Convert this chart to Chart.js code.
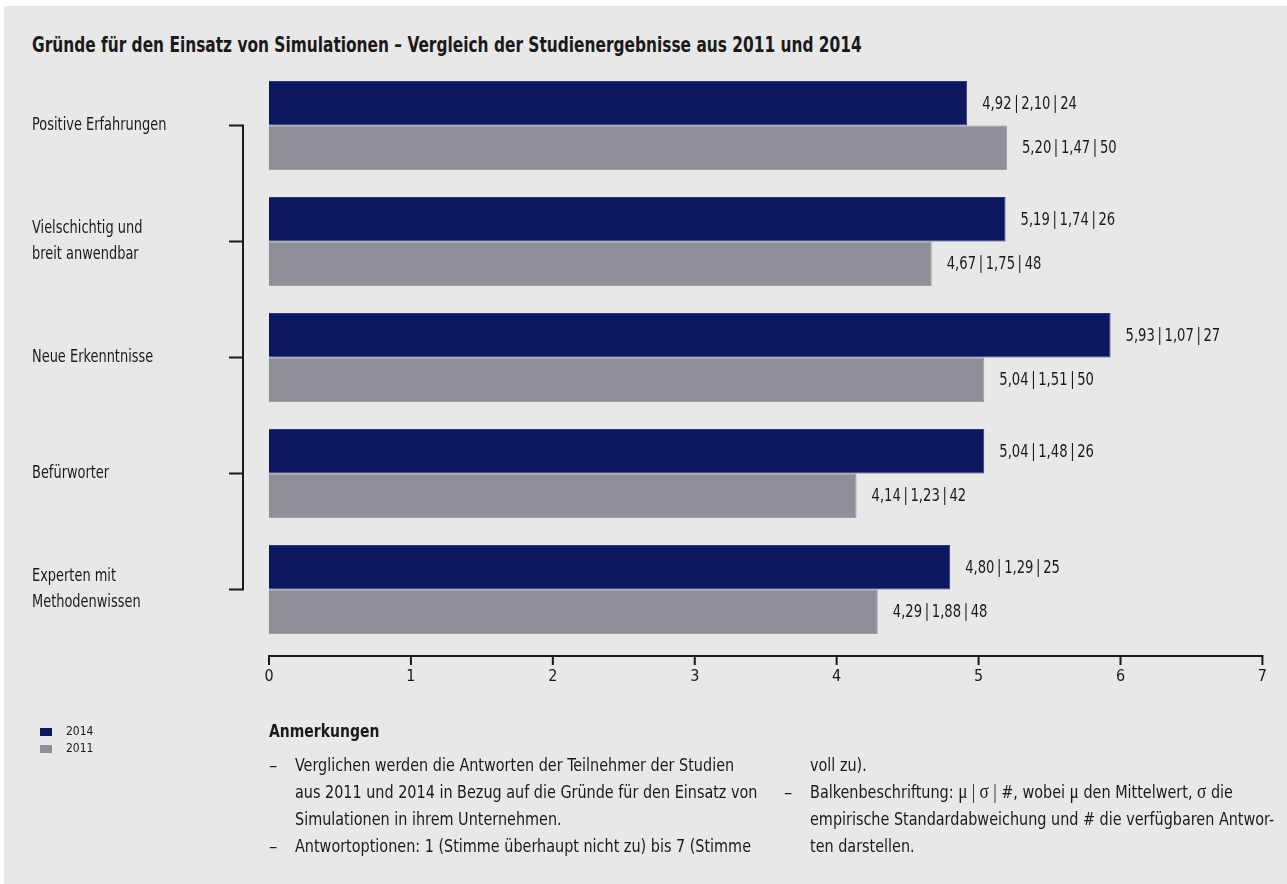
<!DOCTYPE html>
<html lang="de">
<head>
<meta charset="utf-8">
<title>Gründe für den Einsatz von Simulationen</title>
<script src="https://cdn.jsdelivr.net/npm/chart.js@4.4.1/dist/chart.umd.min.js"></script>
<style>
  html, body { margin: 0; padding: 0; background: #fff; }
  body {
    width: 1287px; height: 884px; position: relative; overflow: hidden;
    font-family: "DejaVu Sans Condensed", "Liberation Sans Narrow", "Arial Narrow", sans-serif;
    color: #1a1a1a;
  }
  #panel { position: absolute; left: 4px; top: 6px; right: 0; bottom: 0; background: #e8e8e8; }
  #chartBox { position: absolute; left: 0; top: 0; width: 1287px; height: 884px; }
  .sx { display: inline-block; transform-origin: 0 0; white-space: nowrap; }
  h1 { position: absolute; left: 32px; top: 32px; margin: 0; font-size: 20.5px; line-height: 26px; font-weight: bold; }
  h1 .sx { transform: scaleX(0.835); }
  #legend { position: absolute; left: 40px; top: 723px; font-size: 12px; line-height: 17px; }
  #legend .row { display: flex; align-items: center; }
  #legend .sw { width: 12px; height: 8px; margin-right: 14px; }
  #notesHead { position: absolute; left: 269px; top: 718px; font-size: 18.5px; line-height: 26px; font-weight: bold; }
  #notesHead .sx { transform: scaleX(0.84); }
  .col { position: absolute; top: 751px; font-size: 18.5px; line-height: 27px; }
  .col .item { position: relative; }
  .col .dash { position: absolute; left: -26px; top: 0; }
  .col .sx { transform: scaleX(0.865); }
  #col1 { left: 295px; }
  #col2 { left: 810px; }
  .sym { font-family: "Liberation Serif", "DejaVu Serif", serif; font-size: 20px; }
</style>
</head>
<body>
<div id="panel"></div>
<h1><span class="sx">Gründe für den Einsatz von Simulationen – Vergleich der Studienergebnisse aus 2011 und 2014</span></h1>
<div id="chartBox"><canvas id="simChart" width="1287" height="884"></canvas></div>
<div id="legend"></div>
<div id="notesHead"><span class="sx">Anmerkungen</span></div>
<div class="col" id="col1">
  <div class="item"><span class="dash">–</span><span class="sx">Verglichen werden die Antworten der Teilnehmer der Studien<br>aus 2011 und 2014 in Bezug auf die Gründe für den Einsatz von<br>Simulationen in ihrem Unternehmen.</span></div>
  <div class="item"><span class="dash">–</span><span class="sx">Antwortoptionen: 1 (Stimme überhaupt nicht zu) bis 7 (Stimme</span></div>
</div>
<div class="col" id="col2">
  <div class="item"><span class="sx">voll zu).</span></div>
  <div class="item"><span class="dash">–</span><span class="sx">Balkenbeschriftung: <span class="sym">μ | σ |</span> #, wobei <span class="sym">μ</span> den Mittelwert, <span class="sym">σ</span> die<br>empirische Standardabweichung und # die verfügbaren Antwor-<br>ten darstellen.</span></div>
</div>

<script>
const FONT = '"DejaVu Sans Condensed", "Liberation Sans Narrow", "Arial Narrow", sans-serif';

// Gründe (mehrzeilige Beschriftungen als Arrays)
const categories = [
  'Positive Erfahrungen',
  ['Vielschichtig und', 'breit anwendbar'],
  'Neue Erkenntnisse',
  'Befürworter',
  ['Experten mit', 'Methodenwissen']
];

// Studie 2014: Mittelwert, Standardabweichung, Anzahl Antworten
const mean2014 = [4.92, 5.19, 5.93, 5.04, 4.80];
const sd2014   = [2.10, 1.74, 1.07, 1.48, 1.29];
const n2014    = [24, 26, 27, 26, 25];

// Studie 2011
const mean2011 = [5.20, 4.67, 5.04, 4.14, 4.29];
const sd2011   = [1.47, 1.75, 1.51, 1.23, 1.88];
const n2011    = [50, 48, 50, 42, 48];

const xTicks = [0, 1, 2, 3, 4, 5, 6, 7];

const fmt = v => v.toFixed(2).replace('.', ',');
const THIN = '\u2009';

// schmal gestauchter Text auf dem Canvas
function narrowText(ctx, txt, x, y, sx) {
  ctx.save();
  ctx.translate(x, y);
  ctx.scale(sx, 1);
  ctx.fillText(txt, 0, 0);
  ctx.restore();
}

// Beschriftung rechts neben jedem Balken: μ | σ | #
const barLabels = {
  id: 'barLabels',
  afterDatasetsDraw(chart) {
    const ctx = chart.ctx;
    ctx.save();
    ctx.font = '17px ' + FONT;
    ctx.fillStyle = '#1a1a1a';
    ctx.textBaseline = 'middle';
    ctx.textAlign = 'left';
    chart.data.datasets.forEach((ds, i) => {
      chart.getDatasetMeta(i).data.forEach((bar, j) => {
        const txt = [fmt(ds.data[j]), fmt(ds.sd[j]), String(ds.n[j])].join(THIN + '|' + THIN);
        narrowText(ctx, txt, bar.x + 15, bar.y + 1, 0.86);
      });
    });
    ctx.restore();
  }
};

// Kategorienamen links, linksbündig und vertikal auf die Gruppe zentriert
const categoryLabels = {
  id: 'categoryLabels',
  afterDraw(chart) {
    const ctx = chart.ctx;
    const y = chart.scales.y;
    const lineH = 26;
    ctx.save();
    ctx.font = '17px ' + FONT;
    ctx.fillStyle = '#1a1a1a';
    ctx.textBaseline = 'middle';
    ctx.textAlign = 'left';
    chart.data.labels.forEach((lbl, i) => {
      const lines = Array.isArray(lbl) ? lbl : [lbl];
      const cy = y.getPixelForValue(i);
      lines.forEach((ln, k) => {
        const ly = cy + (k - (lines.length - 1) / 2) * lineH;
        narrowText(ctx, ln, y.left, ly, 0.847);
      });
    });
    ctx.restore();
  }
};

// Klammer links und x-Achse mit Strichen
const axisLines = {
  id: 'axisLines',
  afterDraw(chart) {
    const ctx = chart.ctx;
    const x = chart.scales.x, y = chart.scales.y;
    ctx.save();
    ctx.strokeStyle = '#1a1a1a';
    ctx.lineWidth = 2;

    const yFirst = y.getPixelForValue(0);
    const yLast = y.getPixelForValue(categories.length - 1);
    const bx = 243;
    ctx.beginPath();
    ctx.moveTo(bx, yFirst - 1);
    ctx.lineTo(bx, yLast + 1);
    categories.forEach((c, i) => {
      const py = y.getPixelForValue(i);
      ctx.moveTo(229, py);
      ctx.lineTo(bx, py);
    });
    ctx.stroke();

    const ay = chart.chartArea.bottom + 8.5;
    ctx.beginPath();
    ctx.moveTo(x.getPixelForValue(xTicks[0]) - 1, ay);
    ctx.lineTo(x.getPixelForValue(xTicks[xTicks.length - 1]) + 1, ay);
    xTicks.forEach(t => {
      const px = x.getPixelForValue(t);
      ctx.moveTo(px, ay);
      ctx.lineTo(px, ay + 9);
    });
    ctx.stroke();
    ctx.restore();
  }
};

const chart = new Chart(document.getElementById('simChart'), {
  type: 'bar',
  data: {
    labels: categories,
    datasets: [
      {
        label: '2014',
        data: mean2014, sd: sd2014, n: n2014,
        backgroundColor: '#0b175e',
        borderColor: '#2c3777',
        borderWidth: 1
      },
      {
        label: '2011',
        data: mean2011, sd: sd2011, n: n2011,
        backgroundColor: '#8f8f97',
        borderColor: '#9e9ea6',
        borderWidth: 1
      }
    ]
  },
  options: {
    indexAxis: 'y',
    responsive: false,
    animation: false,
    categoryPercentage: 0.767,
    barPercentage: 1,
    layout: { padding: { left: 32, right: 23, top: 67.5, bottom: 196.5 } },
    plugins: {
      legend: { display: false },
      tooltip: { enabled: false }
    },
    scales: {
      x: {
        min: 0, max: 7,
        afterFit: s => { s.height = 40; },
        afterBuildTicks: s => { s.ticks = xTicks.map(v => ({ value: v })); },
        grid: { display: false, drawTicks: false },
        border: { display: false },
        ticks: { padding: 20, color: '#1a1a1a', font: { family: FONT, size: 16 } }
      },
      y: {
        afterFit: s => { s.width = 237; },
        grid: { display: false, drawTicks: false },
        border: { display: false },
        ticks: { display: false }
      }
    }
  },
  plugins: [barLabels, categoryLabels, axisLines]
});

// Legende unten links aus den Datensätzen
const legendBox = document.getElementById('legend');
chart.data.datasets.forEach(ds => {
  const row = document.createElement('div');
  row.className = 'row';
  const sw = document.createElement('span');
  sw.className = 'sw';
  sw.style.background = ds.backgroundColor;
  const txt = document.createElement('span');
  txt.textContent = ds.label;
  row.appendChild(sw);
  row.appendChild(txt);
  legendBox.appendChild(row);
});
</script>
</body>
</html>
